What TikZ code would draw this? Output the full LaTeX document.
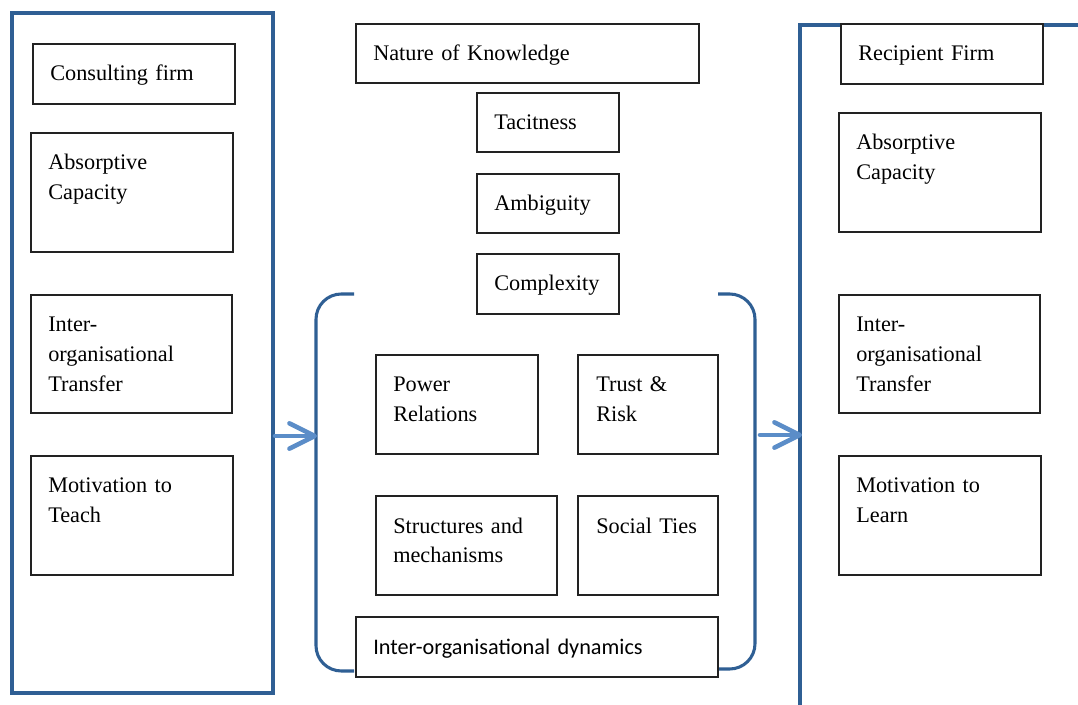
\documentclass[tikz,border=0pt]{standalone}
\usepackage{fontspec}
\setmainfont{Liberation Serif}
\newfontfamily\timesf{Liberation Serif}
\newfontfamily\calib{Carlito}
\usetikzlibrary{fit,arrows.meta}
\definecolor{frameblue}{HTML}{2F5F94}
\definecolor{arrowblue}{HTML}{5B8DC8}
\definecolor{boxline}{HTML}{222222}
\tikzset{
  boxnode/.style={draw=boxline, line width=1.1pt, inner sep=0pt, fill=white},
  txt/.style={anchor=base west, inner sep=0pt, text width=260pt, align=left,
    font=\timesf\fontsize{16.7}{22.2}\selectfont},
  frame/.style={draw=frameblue, line width=2.3pt},
  bracket/.style={draw=frameblue, line width=2.3pt, rounded corners=19pt},
  flowarrow/.style={draw=arrowblue, line width=3.4pt, line cap=round,
    -{Straight Barb[round, length=19pt, width=19pt]}}
}
\begin{document}
\begin{tikzpicture}[x=0.75pt, y=-0.75pt]
\useasboundingbox (0,0) rectangle (1078,705);
\fill[white] (0,0) rectangle (1078,705);
% blue frames
\draw[frame] (12,13) rectangle (273,693);
\draw[frame] (1085,25) -- (800,25) -- (800,712);
% brackets
\draw[bracket] (354,294) -- (316,294) -- (316,671) -- (354,671);
\draw[bracket] (718,294) -- (755,294) -- (755,669) -- (718,669);
% arrows
\coordinate (la1) at (275,436);
\coordinate (la2) at (317,436);
\coordinate (ra1) at (760,435);
\coordinate (ra2) at (802,435);
\draw[flowarrow] (la1) -- (la2);
\draw[flowarrow] (ra1) -- (ra2);
% left column
\node[boxnode, fit={(33,44) (235,104)}] (cf) {};
\node[txt] (cft) at (50,80.5) {Consulting firm};
\node[boxnode, fit={(31,133) (233,252)}] (acl) {};
\node[txt] (aclt) at (48,170) {Absorptive\\Capacity};
\node[boxnode, fit={(31,295) (232,413)}] (iotl) {};
\node[txt] (iotlt) at (48,332) {Inter-\\organisational\\Transfer};
\node[boxnode, fit={(31,456) (233,575)}] (mtl) {};
\node[txt] (mtlt) at (48,493) {Motivation to\\Teach};
% centre column
\node[boxnode, fit={(356,24) (699,83)}] (nk) {};
\node[txt] (nkt) at (373,61) {Nature of Knowledge};
\node[boxnode, fit={(477,93) (619,152)}] (tac) {};
\node[txt] (tact) at (494,130) {Tacitness};
\node[boxnode, fit={(477,174) (619,233)}] (amb) {};
\node[txt] (ambt) at (494,211) {Ambiguity};
\node[boxnode, fit={(477,254) (619,314)}] (cpx) {};
\node[txt] (cpxt) at (494,291) {Complexity};
\node[boxnode, fit={(376,355) (538,454)}] (pr) {};
\node[txt] (prt) at (393,392) {Power\\Relations};
\node[boxnode, fit={(578,355) (718,454)}] (tr) {};
\node[txt] (trt) at (596,391.5) {Trust \&\\Risk};
\node[boxnode, fit={(376,496) (557,595)}] (sm) {};
\node[txt] (smt) at (393,533) {Structures and\\mechanisms};
\node[boxnode, fit={(578,496) (718,595)}] (st) {};
\node[txt] (stt) at (596,534) {Social Ties};
\node[boxnode, fit={(356,617) (718,677)}] (iod) {};
\node[txt, font=\calib\fontsize{16.7}{22.2}\selectfont] (iodt) at (373,654) {Inter-organisational dynamics};
% right column
\node[boxnode, fit={(841,24) (1043,84)}] (rf) {};
\node[txt] (rft) at (858,61) {Recipient Firm};
\node[boxnode, fit={(839,113) (1041,232)}] (acr) {};
\node[txt] (acrt) at (856,150) {Absorptive\\Capacity};
\node[boxnode, fit={(839,295) (1040,413)}] (iotr) {};
\node[txt] (iotrt) at (856,332) {Inter-\\organisational\\Transfer};
\node[boxnode, fit={(839,456) (1041,575)}] (mlr) {};
\node[txt] (mlrt) at (856,493) {Motivation to\\Learn};
\end{tikzpicture}
\end{document}
